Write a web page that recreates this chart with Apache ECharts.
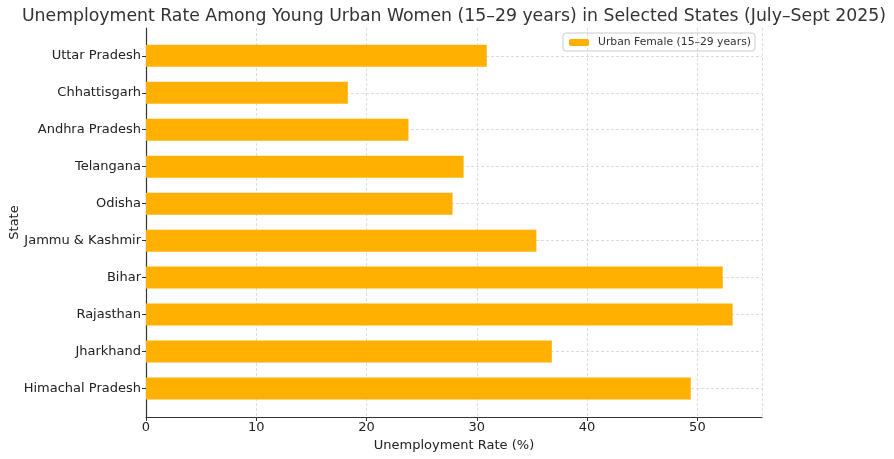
<!DOCTYPE html>
<html><head><meta charset="utf-8">
<script src="https://cdn.jsdelivr.net/npm/echarts@6/dist/echarts.min.js"></script>
<style>html,body{margin:0;padding:0;background:#fff}#c{width:894px;height:459px}</style>
</head><body><div id="c"></div>
<script>
const states = ['Uttar Pradesh','Chhattisgarh','Andhra Pradesh','Telangana','Odisha','Jammu & Kashmir','Bihar','Rajasthan','Jharkhand','Himachal Pradesh'];
const rates = [30.9, 18.3, 23.8, 28.8, 27.8, 35.4, 52.3, 53.2, 36.8, 49.4];
const xTicks = [0, 10, 20, 30, 40, 50];
const seriesName = 'Urban Female (15–29 years)';
const titleText = 'Unemployment Rate Among Young Urban Women (15–29 years) in Selected States (July–Sept 2025)';

const FONT = 'DejaVu Sans';
const chart = echarts.init(document.getElementById('c'));
chart.setOption({
  animation: false,
  textStyle: {fontFamily: FONT},
  title: {text: titleText, left: 454, top: 8, textAlign: 'center', padding: 0,
    textStyle: {fontFamily: FONT, fontSize: 17.3, fontWeight: 'normal', color: '#333'}},
  legend: {data: [seriesName], right: 139, top: 33, orient: 'vertical',
    itemWidth: 20, itemHeight: 7, itemGap: 4, padding: [4, 4, 3, 6],
    borderColor: '#ccc', borderWidth: 1, borderRadius: 3,
    textStyle: {fontFamily: FONT, fontSize: 10.8, color: '#333', padding: [0, 0, 0, 4]}},
  grid: [
    {left: 146, right: 132, top: 28, bottom: 42, containLabel: false, outerBoundsMode: 'none'},
    {left: 146, right: 132, top: 55.8, height: 332.7, containLabel: false, outerBoundsMode: 'none'}
  ],
  xAxis: [
    {type: 'value', gridIndex: 0, min: 0, max: 55.86, interval: 10,
      name: 'Unemployment Rate (%)', nameLocation: 'middle', nameGap: 19,
      nameTextStyle: {fontFamily: FONT, fontSize: 13, color: '#222'},
      axisLine: {show: true, lineStyle: {color: '#333', width: 1.2}},
      axisTick: {show: true, length: 4, lineStyle: {color: '#333'}},
      axisLabel: {fontFamily: FONT, fontSize: 13, color: '#222', margin: 4,
        showMaxLabel: false},
      splitLine: {show: true, lineStyle: {color: '#d4d4d4', type: [3, 2], width: 0.8}}},
    {type: 'value', gridIndex: 1, min: 0, max: 55.86, show: false}
  ],
  yAxis: [
    {type: 'value', gridIndex: 0, min: 0, max: 1,
      axisLine: {show: true, lineStyle: {color: '#333', width: 1.2}},
      axisTick: {show: false}, axisLabel: {show: false}, splitLine: {show: false},
      name: 'State', nameLocation: 'middle', nameGap: 125, nameRotate: 90,
      nameTextStyle: {fontFamily: FONT, fontSize: 13, color: '#222'}},
    {type: 'category', gridIndex: 1, data: states, boundaryGap: false, inverse: true,
      axisLine: {show: false},
      axisTick: {show: true, length: 4, lineStyle: {color: '#333'}},
      axisLabel: {fontFamily: FONT, fontSize: 13, color: '#222', margin: 5, interval: 0},
      splitLine: {show: true, interval: 0, lineStyle: {color: '#d4d4d4', type: [3, 2], width: 0.8}}}
  ],
  series: [{
    name: seriesName, type: 'bar', xAxisIndex: 1, yAxisIndex: 1,
    data: rates, barWidth: 22, clip: false, z: 3,
    itemStyle: {color: '#ffb000'}
  }]
});
</script></body></html>
